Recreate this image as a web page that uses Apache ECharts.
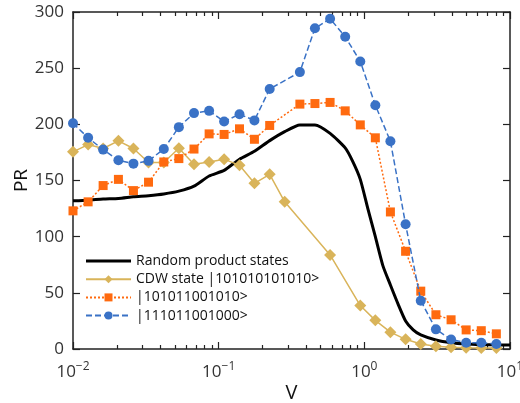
<!DOCTYPE html>
<html><head><meta charset="utf-8">
<script src="https://cdn.jsdelivr.net/npm/echarts@6/dist/echarts.min.js"></script>
<style>html,body{margin:0;padding:0;background:#fff}#c{width:520px;height:403px}</style>
</head><body><div id="c"></div>
<script>
// V grid of the marker series
const vGrid = [0.0100, 0.0127, 0.0161, 0.0205, 0.0260, 0.0330, 0.0420, 0.0533, 0.0677, 0.0860,
  0.109, 0.139, 0.176, 0.224, 0.284, 0.361, 0.458, 0.582, 0.739, 0.938,
  1.19, 1.51, 1.92, 2.44, 3.10, 3.94, 5.00, 6.35, 8.06];
const prCDW = [175.5, 182, 178.5, 185.3, 178.5, 166, 166, 178.7, 164.4, 166.5,
  169, 163.5, 147.5, 155.5, 131, null, null, 83.7, null, 38.7,
  25.5, 15, 8.6, 4.5, 2.5, 1.5, 1.2, 1.0, 0.8];
const prState2 = [123, 131, 145.5, 151, 141, 148.5, 166.5, 169.5, 178, 191.5,
  191, 196, 186.7, 199, null, 218, 218.5, 219.5, 212, 199.5,
  188, 122, 87, 51.5, 30.5, 26, 17, 16.3, 13.5];
const prState3 = [201, 188, 177.5, 168, 165, 167.5, 178, 197.5, 210, 212,
  202.5, 209, 203.5, 231.5, null, 246.5, 285.5, 294, 278, 256,
  217, 185, 111, 43, 17.5, 8.5, 5.5, 5.5, 4.5];
// Random product states (denser)
const vRandom = [0.01, 0.0127, 0.0161, 0.0205, 0.026, 0.033, 0.042, 0.0533, 0.0677, 0.086,
  0.109, 0.139, 0.176, 0.224, 0.284, 0.361, 0.458, 0.582, 0.739, 0.832,
  0.938, 1.057, 1.19, 1.342, 1.51, 1.705, 1.92, 2.165, 2.44, 3.10,
  3.94, 5.00, 6.35, 8.06, 10];
const prRandom = [132, 132.5, 133.5, 134, 135.5, 136.5, 138, 140.5, 145, 154,
  159, 169, 176, 185.5, 193.5, 199.5, 199.5, 192, 179, 167,
  151, 125, 100, 74, 57, 40, 25, 17, 12.5, 8,
  5.6, 4.5, 4, 3.7, 3.5];
const seriesNames = ['Random product states', 'CDW state |101010101010>', '|101011001010>', '|111011001000>'];
const xMinorTicks = [0.02,0.03,0.04,0.05,0.06,0.07,0.08,0.09,0.2,0.3,0.4,0.5,0.6,0.7,0.8,0.9,2,3,4,5,6,7,8,9];
const yTicks = [0, 50, 100, 150, 200, 250, 300];

function pairs(xs, ys) { return xs.map((x, i) => [x, ys[i]]).filter(p => p[1] != null); }

const F = '"Open Sans", "Noto Sans", sans-serif';
const AX = '#222';
const LBL = '#333';

function xAx(pos, minor, labels) {
  const a = {
    type: 'log', logBase: 10, min: 0.01, max: 10, position: pos,
    axisLine: { show: !minor, lineStyle: { color: AX, width: 1.5 } },
    axisTick: { show: true, inside: true, length: minor ? 4 : 7, lineStyle: { color: AX, width: 1.2 } },
    splitLine: { show: false },
    axisLabel: { show: false }
  };
  if (minor) a.axisTick.customValues = xMinorTicks;
  if (labels) {
    a.axisLabel = {
      show: true, margin: 12,
      formatter: v => { const e = Math.round(Math.log10(v)); return '{b|10}{e|' + (e < 0 ? '\u2212' + (-e) : e) + '}'; },
      rich: {
        b: { fontSize: 17, color: LBL, fontFamily: F, lineHeight: 22 },
        e: { fontSize: 12, color: LBL, fontFamily: F, lineHeight: 12, verticalAlign: 'top' }
      }
    };
    a.name = 'V'; a.nameLocation = 'middle'; a.nameGap = 34; a.nameMoveOverlap = false;
    a.nameTextStyle = { fontSize: 20, color: '#111', fontFamily: F };
  }
  return a;
}
function yAx(pos, labels) {
  const a = {
    type: 'value', min: yTicks[0], max: yTicks[yTicks.length - 1], interval: 50, position: pos,
    axisLine: { show: true, lineStyle: { color: AX, width: 1.5 } },
    axisTick: { show: true, inside: true, length: 7, lineStyle: { color: AX, width: 1.2 } },
    splitLine: { show: false },
    axisLabel: { show: labels, fontSize: 17, color: LBL, fontFamily: F, margin: 9 }
  };
  if (labels) {
    a.name = 'PR'; a.nameLocation = 'middle'; a.nameGap = 42; a.nameMoveOverlap = false;
    a.nameTextStyle = { fontSize: 19, color: '#111', fontFamily: F };
  }
  return a;
}

const chart = echarts.init(document.getElementById('c'), null, { renderer: 'canvas' });
chart.setOption({
  animation: false,
  backgroundColor: '#fff',
  grid: { left: 73, right: 10, top: 12, bottom: 54, containLabel: false, outerBoundsMode: 'none' },
  xAxis: [xAx('bottom', false, true), xAx('bottom', true, false), xAx('top', false, false), xAx('top', true, false)],
  yAxis: [yAx('left', true), yAx('right', false)],
  legend: {
    orient: 'vertical', left: 85, top: 254, padding: 0, itemWidth: 45, itemHeight: 10, itemGap: 4.2,
    textStyle: { fontSize: 14, color: '#111', fontFamily: F },
    data: [
      { name: seriesNames[0], icon: 'path://M0,0 L45,0 L45,3 L0,3 Z', itemStyle: { color: '#000' } },
      seriesNames[1], seriesNames[2], seriesNames[3]
    ]
  },
  series: [
    { name: seriesNames[0], type: 'line', data: pairs(vRandom, prRandom), showSymbol: false, symbol: 'none',
      smooth: 0.2, lineStyle: { color: '#000', width: 3 }, itemStyle: { color: '#000' }, z: 2 },
    { name: seriesNames[1], type: 'line', data: pairs(vGrid, prCDW), symbol: 'diamond', symbolSize: 12,
      lineStyle: { color: '#d9b45a', width: 1.5 }, itemStyle: { color: '#d9b45a' }, z: 3 },
    { name: seriesNames[2], type: 'line', data: pairs(vGrid, prState2), symbol: 'rect', symbolSize: 9,
      lineStyle: { color: '#ff6a0f', width: 1.5, type: [2, 2] }, itemStyle: { color: '#ff6a0f' }, z: 4 },
    { name: seriesNames[3], type: 'line', data: pairs(vGrid, prState3), symbol: 'circle', symbolSize: 10,
      lineStyle: { color: '#3a72c6', width: 1.5, type: [6, 3] }, itemStyle: { color: '#3a72c6' }, z: 5 }
  ]
});
</script></body></html>
